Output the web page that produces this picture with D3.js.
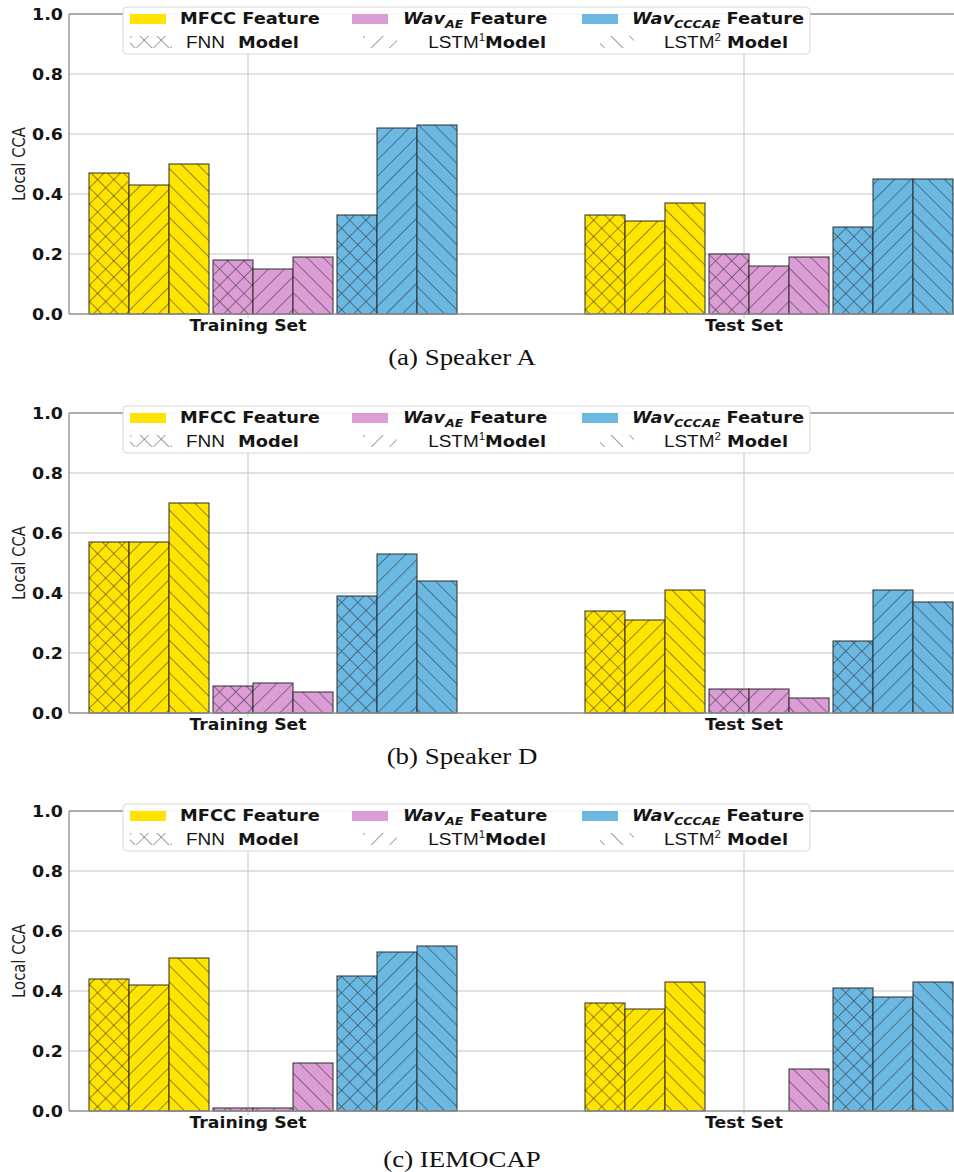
<!DOCTYPE html>
<html>
<head>
<meta charset="utf-8">
<script src="https://cdn.jsdelivr.net/npm/d3@7"></script>
<style>
  body { margin: 0; background: #fff; }
  svg { display: block; }
</style>
</head>
<body>
<svg id="fig" width="954" height="1172"></svg>
<script>
// ---- data ----
const categories = ["Training Set", "Test Set"];
const features = ["MFCC", "WavAE", "WavCCCAE"];
const models = ["FNN", "LSTM1", "LSTM2"];
const featureColors = ["#FFE400", "#DC9DD6", "#6BB8E2"];
const yTicks = [0, 0.2, 0.4, 0.6, 0.8, 1.0];
const captions = ["(a) Speaker A", "(b) Speaker D", "(c) IEMOCAP"];

// Local CCA, ordered MFCC(FNN, LSTM1, LSTM2), WavAE(...), WavCCCAE(...)
const speakerATrain = [0.47, 0.43, 0.50, 0.18, 0.15, 0.19, 0.33, 0.62, 0.63];
const speakerATest  = [0.33, 0.31, 0.37, 0.20, 0.16, 0.19, 0.29, 0.45, 0.45];
const speakerDTrain = [0.57, 0.57, 0.70, 0.09, 0.10, 0.07, 0.39, 0.53, 0.44];
const speakerDTest  = [0.34, 0.31, 0.41, 0.08, 0.08, 0.05, 0.24, 0.41, 0.37];
const iemocapTrain  = [0.44, 0.42, 0.51, 0.01, 0.01, 0.16, 0.45, 0.53, 0.55];
const iemocapTest   = [0.36, 0.34, 0.43, 0.00, 0.00, 0.14, 0.41, 0.38, 0.43];

const panels = [
  { caption: captions[0], values: [speakerATrain, speakerATest] },
  { caption: captions[1], values: [speakerDTrain, speakerDTest] },
  { caption: captions[2], values: [iemocapTrain, iemocapTest] }
];

// ---- layout ----
const SX = 1.15;                 // horizontal text stretch of the figure
const plotLeft = 69, plotRight = 960;
const panelTops = [14, 413, 811];
const panelHeight = 300;
const captionBaselines = [365, 764, 1167];
const sans = "'DejaVu Sans', Verdana, sans-serif";
const arial = "'Liberation Sans', Arial, sans-serif";
const serif = "'Liberation Serif', 'Times New Roman', serif";

const svg = d3.select("#fig");
const defs = svg.append("defs");

// hatch patterns: x, / and \
function hatch(id, angle, size, color, width, cross) {
  const p = defs.append("pattern")
    .attr("id", id)
    .attr("patternUnits", "userSpaceOnUse")
    .attr("width", size).attr("height", size)
    .attr("patternTransform", `rotate(${angle})`);
  p.append("line").attr("x1", 0).attr("y1", 0).attr("x2", 0).attr("y2", size)
    .attr("stroke", color).attr("stroke-width", width);
  if (cross) {
    p.append("line").attr("x1", 0).attr("y1", 0).attr("x2", size).attr("y2", 0)
      .attr("stroke", color).attr("stroke-width", width);
  }
}
const tile = 11.5;
hatch("h-FNN", 45, tile, "#262626", 1.1, true);
hatch("h-LSTM1", 45, tile, "#262626", 1.1, false);
hatch("h-LSTM2", -45, tile, "#262626", 1.1, false);
hatch("l-FNN", 45, 12, "#6e6e6e", 1.3, true);
hatch("l-LSTM1", 45, 13, "#6e6e6e", 1.3, false);
hatch("l-LSTM2", -45, 13, "#6e6e6e", 1.3, false);

// scales shared by all panels
const xCat = d3.scaleBand().domain(categories).range([0, 992]);
const xFeat = d3.scaleBand().domain(features).range([-159, 209]).paddingInner(4 / 124);
const xModel = d3.scaleBand().domain(models).range([0, xFeat.bandwidth()]);

function stretchedText(g, x, y, anchor) {
  return g.append("text")
    .attr("transform", `translate(${x},${y}) scale(${SX},1)`)
    .attr("text-anchor", anchor || "start");
}

panels.forEach((panel, pi) => {
  const top = panelTops[pi];
  const zero = top + panelHeight;
  const y = d3.scaleLinear().domain([0, 1]).range([zero, top]);
  const g = svg.append("g");

  const clipId = "clip" + pi;
  defs.append("clipPath").attr("id", clipId)
    .append("rect").attr("x", plotLeft).attr("y", top - 1)
    .attr("width", plotRight - plotLeft).attr("height", panelHeight + 2);

  // grid
  g.append("g").selectAll("line").data(yTicks.filter(t => t > 0 && t < 1)).join("line")
    .attr("x1", plotLeft).attr("x2", plotRight)
    .attr("y1", d => y(d)).attr("y2", d => y(d))
    .attr("stroke", "#d8d8d8").attr("stroke-width", 1.3);
  g.append("g").selectAll("line").data(categories).join("line")
    .attr("x1", d => xCat(d) + xCat.bandwidth() / 2)
    .attr("x2", d => xCat(d) + xCat.bandwidth() / 2)
    .attr("y1", top).attr("y2", zero + 4)
    .attr("stroke", "#cdcdcd").attr("stroke-width", 1.2);

  // bars
  const bars = [];
  categories.forEach((cat, ci) => {
    features.forEach((f, fi) => {
      models.forEach((m, mi) => {
        bars.push({ cat, f, fi, m, v: panel.values[ci][fi * 3 + mi] });
      });
    });
  });
  const bg = g.append("g").attr("clip-path", `url(#${clipId})`);
  const bx = d => xCat(d.cat) + xCat.bandwidth() / 2 + xFeat(d.f) + xModel(d.m);
  const bw = xModel.bandwidth();
  const barSel = bg.selectAll("g.bar").data(bars.filter(d => d.v > 0)).join("g").attr("class", "bar");
  barSel.append("rect")
    .attr("x", bx).attr("width", bw)
    .attr("y", d => y(d.v)).attr("height", d => zero - y(d.v))
    .attr("fill", d => featureColors[d.fi]);
  barSel.append("rect")
    .attr("x", bx).attr("width", bw)
    .attr("y", d => y(d.v)).attr("height", d => zero - y(d.v))
    .attr("fill", d => `url(#h-${d.m})`).attr("opacity", 0.9);
  barSel.append("rect")
    .attr("x", bx).attr("width", bw)
    .attr("y", d => y(d.v)).attr("height", d => zero - y(d.v))
    .attr("fill", "none").attr("stroke", "#2a2a2a").attr("stroke-opacity", 0.9)
    .attr("stroke-width", 1.1);

  // spines
  g.append("line").attr("x1", plotLeft).attr("x2", plotLeft).attr("y1", top).attr("y2", zero)
    .attr("stroke", "#8f8f8f").attr("stroke-width", 1.3);
  g.append("line").attr("x1", plotLeft).attr("x2", plotRight).attr("y1", zero).attr("y2", zero)
    .attr("stroke", "#8f8f8f").attr("stroke-width", 1.3);
  g.append("line").attr("x1", plotLeft).attr("x2", plotRight).attr("y1", top).attr("y2", top)
    .attr("stroke", "#8f8f8f").attr("stroke-width", 1.3);

  // y axis ticks
  const yAxis = g.append("g").attr("transform", `translate(${plotLeft},0)`)
    .call(d3.axisLeft(y).tickValues(yTicks).tickFormat(d3.format(".1f")).tickSize(0));
  yAxis.select(".domain").remove();
  yAxis.selectAll(".tick text")
    .attr("x", 0).attr("dy", null)
    .attr("transform", `translate(-6,5.5) scale(${SX},1)`)
    .attr("font-family", sans).attr("font-weight", "bold").attr("font-size", 15.2)
    .attr("fill", "#151515");

  // x axis labels
  const xAxis = g.append("g").attr("transform", `translate(0,${zero})`)
    .call(d3.axisBottom(xCat).tickSize(0));
  xAxis.select(".domain").remove();
  xAxis.selectAll(".tick text")
    .attr("y", 0).attr("dy", null)
    .attr("transform", `translate(0,17) scale(${SX},1)`)
    .attr("font-family", sans).attr("font-weight", "bold").attr("font-size", 15)
    .attr("fill", "#151515");

  // y label
  g.append("text")
    .attr("transform", `translate(25,${(top + zero) / 2}) scale(${SX},1) rotate(-90)`)
    .attr("text-anchor", "middle")
    .attr("font-family", sans).attr("font-size", 14.8).attr("fill", "#222")
    .text("Local CCA");

  // legend
  const lg = g.append("g").attr("transform", `translate(0,${top})`);
  lg.append("rect").attr("x", 123).attr("y", -7).attr("width", 687).attr("height", 47)
    .attr("rx", 4).attr("fill", "#fff").attr("fill-opacity", 0.93)
    .attr("stroke", "#d8d8d8").attr("stroke-width", 1);

  const patchX = [130, 352, 582];
  features.forEach((f, i) => {
    lg.append("rect").attr("x", patchX[i]).attr("y", 0).attr("width", 36).attr("height", 10)
      .attr("fill", featureColors[i]);
  });
  const fs = 15.5;
  stretchedText(lg, 180, 10).attr("font-family", sans).attr("font-weight", "bold")
    .attr("font-size", fs).attr("fill", "#151515").text("MFCC Feature");
  [[403, "AE"], [632, "CCCAE"]].forEach(([x, sub]) => {
    const t = stretchedText(lg, x, 10).attr("font-family", sans).attr("font-weight", "bold")
      .attr("font-size", fs).attr("fill", "#151515");
    t.append("tspan").attr("font-style", "italic").text("Wav");
    t.append("tspan").attr("font-style", "italic").attr("font-size", 11).attr("dy", 3.5).text(sub);
    t.append("tspan").attr("dy", -3.5).text("\u00a0Feature");
  });

  const hatchPatches = [[130, 42, "FNN"], [363, 34, "LSTM1"], [600, 34, "LSTM2"]];
  hatchPatches.forEach(([x, w, m]) => {
    lg.append("rect").attr("x", x).attr("y", 22).attr("width", w).attr("height", 12)
      .attr("fill", `url(#l-${m})`);
  });
  const rowY = 33.5;
  stretchedText(lg, 186, rowY).attr("font-family", arial).attr("font-size", 16.5)
    .attr("fill", "#151515").text("FNN");
  stretchedText(lg, 238, rowY).attr("font-family", sans).attr("font-weight", "bold")
    .attr("font-size", fs).attr("fill", "#151515").text("Model");

  // LSTM label: normal "LSTM", superscript index, bold "Model", right-aligned
  [["1", 546, ""], ["2", 788, "\u00a0"]].forEach(([sup, endX, gap]) => {
    const t = stretchedText(lg, endX, rowY, "end").attr("fill", "#151515");
    t.append("tspan").attr("font-family", arial).attr("font-size", 16.5).text("LSTM");
    t.append("tspan").attr("font-family", arial).attr("font-size", 10).attr("dy", -7).text(sup);
    t.append("tspan").attr("font-family", sans).attr("font-weight", "bold")
      .attr("font-size", fs).attr("dy", 7).text(gap + "Model");
  });

  // caption
  svg.append("text")
    .attr("transform", `translate(462,${captionBaselines[pi]}) scale(1.12,1)`)
    .attr("text-anchor", "middle")
    .attr("font-family", serif).attr("font-size", 24).attr("fill", "#111")
    .text(panel.caption);
});
</script>
</body>
</html>
